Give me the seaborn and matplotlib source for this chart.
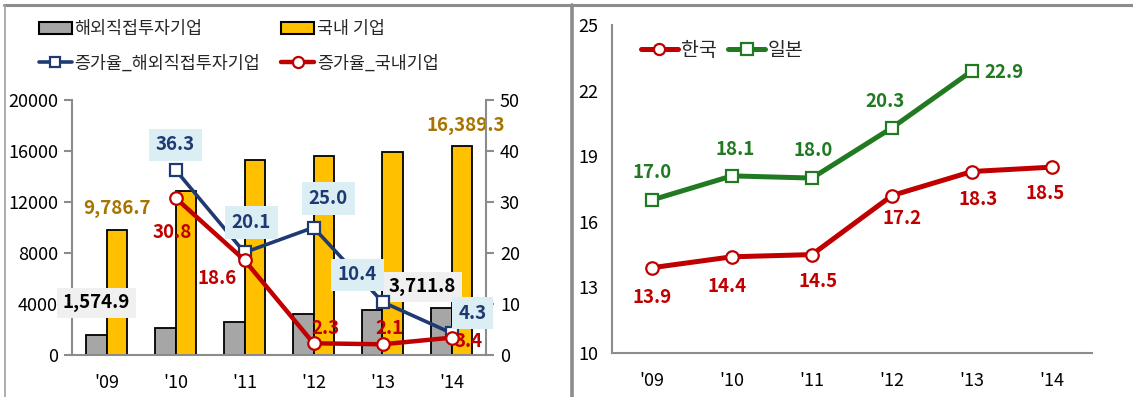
import matplotlib
matplotlib.use("Agg")
import matplotlib.pyplot as plt
from matplotlib.lines import Line2D
from matplotlib.patches import Patch
import numpy as np
import pandas as pd
import seaborn as sns

# ---- data ----
years = ["'09", "'10", "'11", "'12", "'13", "'14"]
fdi_firms = [1574.9, 2140, 2590, 3220, 3550, 3711.8]          # 해외직접투자기업
domestic_firms = [9786.7, 12860, 15270, 15580, 15920, 16389.3]  # 국내 기업
growth_fdi = [None, 36.3, 20.1, 25.0, 10.4, 4.3]              # 증가율_해외직접투자기업
growth_dom = [None, 30.8, 18.6, 2.3, 2.1, 3.4]                # 증가율_국내기업
korea = [13.9, 14.4, 14.5, 17.2, 18.3, 18.5]                  # 한국
japan = [17.0, 18.1, 18.0, 20.3, 22.9, None]                  # 일본

bar_names = ["해외직접투자기업", "국내 기업"]
growth_names = ["증가율_해외직접투자기업", "증가율_국내기업"]
country_names = ["한국", "일본"]

sns.set_theme(style="white")
plt.rcParams["font.family"] = ["Liberation Sans Narrow", "Noto Sans CJK KR", "DejaVu Sans"]

GRAY = "#A6A6A6"
GOLD = "#FFC000"
NAVY = "#1F3A73"
RED = "#C00000"
GREEN = "#217A21"
SPINE = "#8C8C8C"
LBL_GOLD = "#A87400"

W, H = 1133, 397
fig = plt.figure(figsize=(W / 100, H / 100), dpi=100)


def fx(px):
    return px / W


def fy(py):
    return 1 - py / H


def style_axis(a):
    a.tick_params(axis="x", length=0, pad=14, labelsize=13, colors="black")
    a.set_xticks(np.arange(-0.5, 6, 1), minor=True)
    a.tick_params(axis="x", which="minor", length=6, width=1.5, color=SPINE, direction="out")
    a.tick_params(axis="y", length=6, width=1.5, color=SPINE, direction="out",
                  labelsize=13, pad=4, colors="black")
    for s in ["top", "right"]:
        a.spines[s].set_visible(False)
    for s in ["left", "bottom"]:
        a.spines[s].set_color(SPINE)
        a.spines[s].set_linewidth(1.5)


# ---- left panel: bars + growth lines ----
ax = fig.add_axes([fx(72), fy(355), fx(486 - 72), fy(100) - fy(355)])
bars = pd.DataFrame({
    "year": years * 2,
    "value": fdi_firms + domestic_firms,
    "kind": [bar_names[0]] * 6 + [bar_names[1]] * 6,
})
sns.barplot(data=bars, x="year", y="value", hue="kind", order=years,
            hue_order=bar_names, palette=[GRAY, GOLD], width=0.58,
            edgecolor="black", linewidth=1.3, saturation=1, legend=False, ax=ax)
ax.set_ylim(0, 20000)
ax.set_xlim(-0.5, 5.5)
ax.set_yticks([0, 4000, 8000, 12000, 16000, 20000])
ax.set_xlabel("")
ax.set_ylabel("")
ax.set_xticks(np.arange(6))
ax.set_xticklabels(years)
style_axis(ax)

ax2 = ax.twinx()
lines = pd.DataFrame({
    "x": list(range(6)) * 2,
    "rate": growth_fdi + growth_dom,
    "kind": [growth_names[0]] * 6 + [growth_names[1]] * 6,
}).dropna()
sns.lineplot(data=lines[lines.kind == growth_names[0]], x="x", y="rate", color=NAVY,
             lw=2.6, marker="s", ms=8, mfc="white", mec=NAVY, mew=1.6, ax=ax2)
sns.lineplot(data=lines[lines.kind == growth_names[1]], x="x", y="rate", color=RED,
             lw=3.2, marker="o", ms=9, mfc="white", mec=RED, mew=1.6, ax=ax2)
ax2.set_ylim(0, 50)
ax2.set_xlim(-0.5, 5.5)
ax2.set_yticks([0, 10, 20, 30, 40, 50])
ax2.set_xlabel("")
ax2.set_ylabel("")
ax2.tick_params(axis="y", length=6, width=1.5, color=SPINE, direction="out",
                labelsize=13, pad=4, colors="black")
for s in ["top", "left", "bottom"]:
    ax2.spines[s].set_visible(False)
ax2.spines["right"].set_color(SPINE)
ax2.spines["right"].set_linewidth(1.5)

lbl = dict(fontsize=13.5, fontweight="bold", ha="center", va="center",
           textcoords="offset pixels", annotation_clip=False)
bw = 0.145
# bar value labels
ax.annotate(f"{fdi_firms[0]:,.1f}", (0 - bw, fdi_firms[0]), xytext=(0, 32), color="black",
            bbox=dict(boxstyle="square,pad=0.3", fc="#F0F0F0", ec="none"), **lbl)
ax.annotate(f"{fdi_firms[5]:,.1f}", (5 - bw, fdi_firms[5]), xytext=(-19, 21), color="black",
            bbox=dict(boxstyle="square,pad=0.3", fc="#F0F0F0", ec="none"), **lbl)
ax.annotate(f"{domestic_firms[0]:,.1f}", (0 + bw, domestic_firms[0]), xytext=(0, 22),
            color=LBL_GOLD, **lbl)
ax.annotate(f"{domestic_firms[5]:,.1f}", (5 + bw, domestic_firms[5]), xytext=(4, 21),
            color=LBL_GOLD, **lbl)

# growth rate labels
fdi_off = [None, (0, 25), (7, 30), (15, 29), (-25, 27), (21, 20)]
dom_off = [None, (-3, -35), (-27, -18), (12, 15), (7, 16), (17, -4)]
for i in range(1, 6):
    ax2.annotate(f"{growth_fdi[i]:.1f}", (i, growth_fdi[i]), xytext=fdi_off[i], color=NAVY,
                 bbox=dict(boxstyle="square,pad=0.35", fc="#DAEEF3", ec="none"), **lbl)
    ax2.annotate(f"{growth_dom[i]:.1f}", (i, growth_dom[i]), xytext=dom_off[i], color=RED, **lbl)

# legend: column-major fill -> bars on the first row, growth lines on the second
h_gray = Patch(fc=GRAY, ec="black", lw=1.5)
h_gold = Patch(fc=GOLD, ec="black", lw=1.5)
h_navy = Line2D([], [], color=NAVY, lw=2.6, marker="s", ms=7, mfc="white", mec=NAVY, mew=1.6)
h_red = Line2D([], [], color=RED, lw=3.2, marker="o", ms=8, mfc="white", mec=RED, mew=1.6)
fig.legend([h_gray, h_navy, h_gold, h_red],
           [bar_names[0], growth_names[0], bar_names[1], growth_names[1]],
           ncol=2, loc="upper left", bbox_to_anchor=(fx(32), fy(13)), frameon=False,
           fontsize=12.5, handlelength=1.9, handletextpad=0.15, columnspacing=1.2,
           labelspacing=0.95, borderaxespad=0)

# ---- right panel: Korea vs Japan ----
axr = fig.add_axes([fx(612), fy(353), fx(1092 - 612), fy(25) - fy(353)])
cmp = pd.DataFrame({
    "x": list(range(6)) * 2,
    "v": korea + japan,
    "country": [country_names[0]] * 6 + [country_names[1]] * 6,
}).dropna()
sns.lineplot(data=cmp[cmp.country == country_names[0]], x="x", y="v", color=RED, lw=3.6,
             marker="o", ms=9, mfc="white", mec=RED, mew=1.6, ax=axr)
sns.lineplot(data=cmp[cmp.country == country_names[1]], x="x", y="v", color=GREEN, lw=3.6,
             marker="s", ms=9, mfc="white", mec=GREEN, mew=1.6, ax=axr)
axr.set_ylim(10, 25)
axr.set_xlim(-0.5, 5.5)
axr.set_yticks([10, 13, 16, 19, 22, 25])
axr.set_xticks(np.arange(6))
axr.set_xticklabels(years)
axr.set_xlabel("")
axr.set_ylabel("")
style_axis(axr)

jp_off = [(0, 27), (3, 26), (1, 28), (-7, 26), (32, -2), None]
kr_off = [(0, -30), (-5, -30), (6, -27), (10, -23), (6, -28), (-7, -26)]
for i in range(6):
    axr.annotate(f"{korea[i]:.1f}", (i, korea[i]), xytext=kr_off[i], color=RED, **lbl)
    if japan[i] is not None:
        axr.annotate(f"{japan[i]:.1f}", (i, japan[i]), xytext=jp_off[i], color=GREEN, **lbl)

axr.legend([Line2D([], [], color=RED, lw=3.6, marker="o", ms=8, mfc="white", mec=RED, mew=1.6),
            Line2D([], [], color=GREEN, lw=3.6, marker="s", ms=8, mfc="white", mec=GREEN, mew=1.6)],
           country_names, ncol=2, loc="upper left", bbox_to_anchor=(fx(633), fy(32)),
           bbox_transform=fig.transFigure, frameon=False, fontsize=14, handlelength=1.9,
           handletextpad=0.15, columnspacing=0.6, borderaxespad=0)

# ---- panel frames ----
fig.add_artist(Line2D([fx(4), fx(1133)], [fy(5), fy(5)], color="#8C8C8C", lw=2.2,
                      transform=fig.transFigure))
fig.add_artist(Line2D([fx(5), fx(5)], [fy(5), fy(397)], color="#A0A0A0", lw=1.2,
                      transform=fig.transFigure))
fig.add_artist(Line2D([fx(572), fx(572)], [fy(5), fy(397)], color="#8C8C8C", lw=2.6,
                      transform=fig.transFigure))

fig.savefig("out.png", dpi=100)
